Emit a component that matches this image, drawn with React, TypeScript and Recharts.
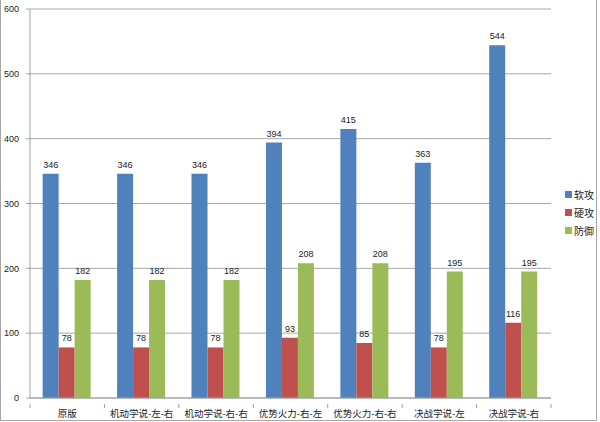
import { Bar, BarChart, CartesianGrid, LabelList, XAxis, YAxis } from "recharts";

const categories = [
  "原版",
  "机动学说-左-右",
  "机动学说-右-右",
  "优势火力-右-左",
  "优势火力-右-右",
  "决战学说-左",
  "决战学说-右",
];
const softAttack = [346, 346, 346, 394, 415, 363, 544];
const hardAttack = [78, 78, 78, 93, 85, 78, 116];
const defense = [182, 182, 182, 208, 208, 195, 195];
const yTicks = [0, 100, 200, 300, 400, 500, 600];

const series = [
  { key: "soft", name: "软攻", color: "#4F81BD" },
  { key: "hard", name: "硬攻", color: "#C0504D" },
  { key: "def", name: "防御", color: "#9BBB59" },
];

const data = categories.map((name, i) => ({
  name,
  soft: softAttack[i],
  hard: hardAttack[i],
  def: defense[i],
}));

const FONT = '"Liberation Sans", "Noto Sans CJK SC", sans-serif';
const BAND = (600 - 30 - 49) / categories.length;

// category label plus the small tick marks that sit between categories
function CategoryTick(props: any) {
  const { x, y, payload, index } = props;
  const half = BAND / 2;
  const axisY = y - 4;
  return (
    <g>
      <line x1={x - half} y1={axisY} x2={x - half} y2={axisY + 4} stroke="#a0a0a0" />
      {index === categories.length - 1 && (
        <line x1={x + half} y1={axisY} x2={x + half} y2={axisY + 4} stroke="#a0a0a0" />
      )}
      <text
        x={x}
        y={y + 9}
        textAnchor="middle"
        fill="#222"
        fontSize={9.5}
        fontFamily={FONT}
      >
        {payload.value}
      </text>
    </g>
  );
}

export default function App() {
  return (
    <div
      style={{
        position: "absolute",
        left: 0,
        top: 0,
        width: 600,
        height: 422,
        background: "#fff",
        fontFamily: FONT,
      }}
    >
      <div
        style={{
          position: "absolute",
          left: 0,
          top: -2,
          width: 597,
          height: 423,
          border: "1px solid #a6a6a6",
          boxSizing: "border-box",
        }}
      />
      <BarChart
        width={600}
        height={422}
        data={data}
        margin={{ top: 9, right: 49, bottom: 0, left: 0 }}
        barGap={0}
        barCategoryGap="17%"
      >
        <CartesianGrid vertical={false} stroke="#a8a8a8" />
        <XAxis
          dataKey="name"
          height={24}
          interval={0}
          tick={<CategoryTick />}
          tickLine={false}
          axisLine={{ stroke: "#a0a0a0" }}
          tickMargin={4}
        />
        <YAxis
          width={30}
          domain={[0, 600]}
          ticks={yTicks}
          tick={{ fill: "#222", fontSize: 9, fontFamily: FONT }}
          tickSize={4}
          tickLine={{ stroke: "#a0a0a0" }}
          axisLine={{ stroke: "#a0a0a0" }}
          tickMargin={7}
        />
        {series.map((s) => (
          <Bar
            key={s.key}
            dataKey={s.key}
            name={s.name}
            fill={s.color}
            isAnimationActive={false}
          >
            <LabelList
              dataKey={s.key}
              position="top"
              offset={6}
              style={{ fill: "#222", fontSize: 9, fontFamily: FONT }}
            />
          </Bar>
        ))}
      </BarChart>
      <div style={{ position: "absolute", left: 565, top: 185, fontSize: 10 }}>
        {series.map((s) => (
          <div
            key={s.key}
            style={{ display: "flex", alignItems: "center", height: 18, color: "#222" }}
          >
            <span
              style={{
                width: 7,
                height: 7,
                background: s.color,
                display: "inline-block",
                marginRight: 2,
              }}
            />
            {s.name}
          </div>
        ))}
      </div>
    </div>
  );
}
